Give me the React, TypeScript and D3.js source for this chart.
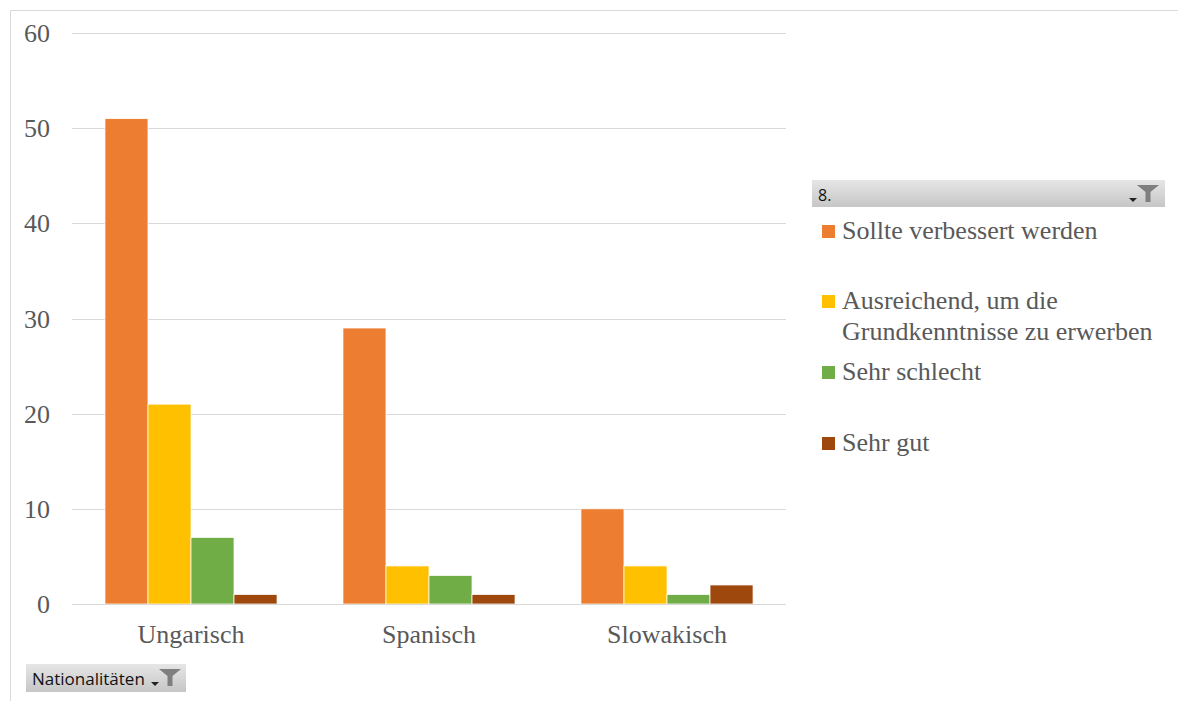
import React from "react";
import * as d3 from "d3";

const categories = ["Ungarisch", "Spanisch", "Slowakisch"];
const seriesNames = [
  "Sollte verbessert werden",
  "Ausreichend, um die Grundkenntnisse zu erwerben",
  "Sehr schlecht",
  "Sehr gut",
];
const sollteVerbessert = [51, 29, 10];
const ausreichend = [21, 4, 4];
const sehrSchlecht = [7, 3, 1];
const sehrGut = [1, 1, 2];
const yTicks = [0, 10, 20, 30, 40, 50, 60];
const colors = ["#ED7D31", "#FFC000", "#70AD47", "#9E480E"];

const seriesValues = [sollteVerbessert, ausreichend, sehrSchlecht, sehrGut];

const W = 1178;
const H = 701;
const plot = { left: 72, right: 786, top: 33, bottom: 604 };
const serif = '"Liberation Serif", "Times New Roman", "DejaVu Serif", serif';
const sans = '"Open Sans", "Noto Sans", sans-serif';
const textGray = "#595959";

// Legend layout: wrapped label lines and the baseline of each entry's first line
const legendItems = [
  { lines: ["Sollte verbessert werden"], y: 239 },
  { lines: ["Ausreichend, um die", "Grundkenntnisse zu erwerben"], y: 309 },
  { lines: ["Sehr schlecht"], y: 380 },
  { lines: ["Sehr gut"], y: 451 },
];

// Drop-down arrow plus funnel, as on a pivot field button
function FilterIcon({ x, y }: { x: number; y: number }) {
  return (
    <g transform={`translate(${x},${y})`}>
      <path d="M0,13 L8,13 L4,17 Z" fill="#222" />
      <path d="M8,0 L30,0 L21.5,7 L21.5,17 L16.5,17 L16.5,7 Z" fill="#7f7f7f" />
    </g>
  );
}

export default function App() {
  const x0 = d3
    .scaleBand<string>()
    .domain(categories)
    .range([plot.left, plot.right])
    .paddingInner(0.277)
    .paddingOuter(0.1385);
  const x1 = d3
    .scaleBand<number>()
    .domain(d3.range(seriesNames.length))
    .range([0, x0.bandwidth()]);
  const y = d3.scaleLinear().domain([0, 60]).range([plot.bottom, plot.top]);

  const serifStyle = { fontFamily: serif };
  const sansStyle = { fontFamily: sans };

  return (
    <svg
      width={W}
      height={H}
      style={{ position: "absolute", left: 0, top: 0, background: "#fff" }}
    >
      <defs>
        <linearGradient id="btnGrad" x1="0" y1="0" x2="0" y2="1">
          <stop offset="0" stopColor="#e6e6e6" />
          <stop offset="1" stopColor="#c6c6c6" />
        </linearGradient>
      </defs>
      <rect x={0} y={0} width={W} height={H} fill="#fff" />
      {/* chart frame */}
      <line x1={10.5} y1={10.5} x2={W} y2={10.5} stroke="#d9d9d9" />
      <line x1={10.5} y1={10.5} x2={10.5} y2={H} stroke="#d9d9d9" />

      {/* gridlines */}
      {yTicks.map((t) => (
        <line
          key={t}
          x1={plot.left}
          x2={plot.right}
          y1={Math.round(y(t)) + 0.5}
          y2={Math.round(y(t)) + 0.5}
          stroke="#d9d9d9"
          strokeWidth={1}
        />
      ))}
      {yTicks.map((t) => (
        <text
          key={"l" + t}
          x={50}
          y={y(t) + 9}
          textAnchor="end"
          style={serifStyle}
          fontSize={26}
          fill={textGray}
        >
          {t}
        </text>
      ))}

      {/* bars */}
      {categories.map((c, ci) => (
        <g key={c}>
          {seriesValues.map((vals, si) => (
            <rect
              key={si}
              x={(x0(c) ?? 0) + (x1(si) ?? 0)}
              y={y(vals[ci])}
              width={x1.bandwidth()}
              height={y(0) - y(vals[ci])}
              fill={colors[si]}
              stroke="#fff"
              strokeWidth={0.75}
            />
          ))}
          <text
            x={(x0(c) ?? 0) + x0.bandwidth() / 2}
            y={643}
            textAnchor="middle"
            style={serifStyle}
            fontSize={26}
            fill={textGray}
          >
            {c}
          </text>
        </g>
      ))}
      {/* baseline */}
      <line
        x1={plot.left}
        x2={plot.right}
        y1={Math.round(y(0)) + 0.5}
        y2={Math.round(y(0)) + 0.5}
        stroke="#d9d9d9"
      />

      {/* legend header */}
      <rect x={812} y={180} width={353} height={27} fill="url(#btnGrad)" />
      <text x={818} y={201} style={sansStyle} fontSize={16} fill="#111">
        8.
      </text>
      <FilterIcon x={1129} y={185} />
      {legendItems.map((item, i) => (
        <g key={i}>
          <rect x={822} y={item.y - 14} width={13} height={13} fill={colors[i]} />
          {item.lines.map((ln, li) => (
            <text
              key={li}
              x={842}
              y={item.y + li * 31}
              style={serifStyle}
              fontSize={26}
              fill={textGray}
            >
              {ln}
            </text>
          ))}
        </g>
      ))}

      {/* category field button */}
      <rect x={26} y={664} width={160} height={28} fill="url(#btnGrad)" />
      <text x={32} y={685} style={sansStyle} fontSize={17} fill="#111">
        Nationalitäten
      </text>
      <FilterIcon x={151} y={669} />
    </svg>
  );
}
